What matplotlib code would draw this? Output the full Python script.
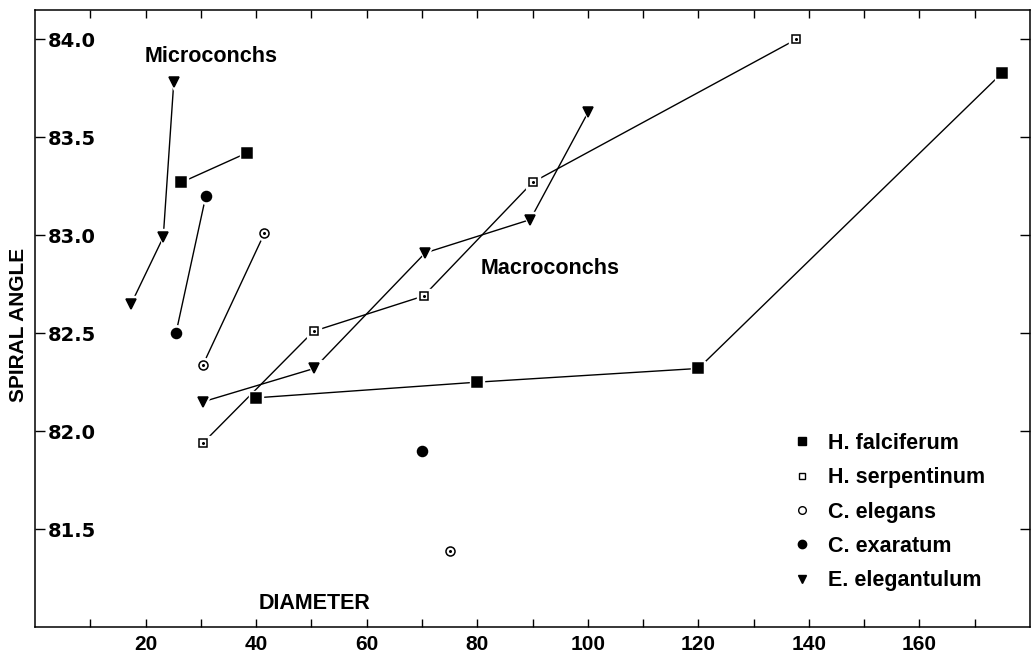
import matplotlib
matplotlib.use('Agg')
import matplotlib.pyplot as plt
from matplotlib.lines import Line2D
from matplotlib.ticker import FixedLocator, FormatStrFormatter

plt.rcParams['font.family'] = ['Liberation Sans', 'DejaVu Sans']
plt.rcParams['font.weight'] = 'bold'
plt.rcParams['axes.labelweight'] = 'bold'

# H. falciferum
falc_macro_x = [40, 80, 120, 175]
falc_macro_y = [82.17, 82.25, 82.32, 83.83]
falc_micro_x = [26.5, 38.3]
falc_micro_y = [83.27, 83.42]

# H. serpentinum
serp_x = [30.4, 50.4, 70.3, 90.0, 137.7]
serp_y = [81.94, 82.51, 82.69, 83.27, 84.0]

# C. elegans
eleg_micro_x = [30.4, 41.5]
eleg_micro_y = [82.34, 83.01]
eleg_single_x = [75.1]
eleg_single_y = [81.39]

# C. exaratum
exar_micro_x = [25.5, 30.9]
exar_micro_y = [82.50, 83.20]
exar_single_x = [70.0]
exar_single_y = [81.90]

# E. elegantulum
elegt_micro_x = [17.4, 23.2, 25.1]
elegt_micro_y = [82.65, 82.99, 83.78]
elegt_macro_x = [30.4, 50.5, 70.6, 89.6, 100.1]
elegt_macro_y = [82.15, 82.32, 82.91, 83.08, 83.63]

species = ['H. falciferum', 'H. serpentinum', 'C. elegans', 'C. exaratum', 'E. elegantulum']
x_ticks = [20, 40, 60, 80, 100, 120, 140, 160]
y_ticks = [81.5, 82.0, 82.5, 83.0, 83.5, 84.0]


def draw_series(ax, x, y, marker, ms, face, dot=False, line=True):
    if line:
        ax.plot(x, y, color='black', lw=1.0, zorder=2)
    # white halo so the lines stop short of the symbols
    ax.plot(x, y, ls='none', marker=marker, ms=ms + 4, mfc='white', mec='white', zorder=3)
    ax.plot(x, y, ls='none', marker=marker, ms=ms, mfc=face, mec='black', mew=1.1, zorder=4)
    if dot:
        ax.plot(x, y, ls='none', marker='o', ms=1.2, mfc='black', mec='black', zorder=5)


def plot_chart():
    fig = plt.figure(figsize=(10.32, 6.55), dpi=100)
    ax = fig.add_axes([35 / 1032, 28 / 655, 995 / 1032, 617 / 655])
    ax.set_xlim(0, 180)
    ax.set_ylim(81.0, 84.15)

    draw_series(ax, falc_macro_x, falc_macro_y, 's', 6.5, 'black')
    draw_series(ax, falc_micro_x, falc_micro_y, 's', 6.5, 'black')
    draw_series(ax, serp_x, serp_y, 's', 6.0, 'white', dot=True)
    draw_series(ax, eleg_micro_x, eleg_micro_y, 'o', 6.5, 'white', dot=True)
    draw_series(ax, eleg_single_x, eleg_single_y, 'o', 6.5, 'white', dot=True, line=False)
    draw_series(ax, exar_micro_x, exar_micro_y, 'o', 7.2, 'black')
    draw_series(ax, exar_single_x, exar_single_y, 'o', 7.2, 'black', line=False)
    draw_series(ax, elegt_micro_x, elegt_micro_y, 'v', 7, 'black')
    draw_series(ax, elegt_macro_x, elegt_macro_y, 'v', 7, 'black')

    for s in ax.spines.values():
        s.set_linewidth(1.1)

    ax.xaxis.set_major_locator(FixedLocator(x_ticks))
    ax.xaxis.set_minor_locator(FixedLocator(range(10, 171, 20)))
    ax.tick_params(axis='x', which='both', direction='in', length=6, width=1,
                   top=True, labelsize=15, pad=6)

    ax.yaxis.set_major_locator(FixedLocator(y_ticks))
    ax.yaxis.set_major_formatter(FormatStrFormatter('%.1f'))
    ax.tick_params(axis='y', direction='in', length=7, width=1, right=True,
                   labelsize=14, pad=-9)
    for lab in ax.get_yticklabels():
        lab.set_horizontalalignment('left')
        lab.set_fontfamily('DejaVu Sans')

    ax.set_ylabel('SPIRAL ANGLE', fontsize=15, fontweight='bold')
    ax.yaxis.set_label_coords(-0.007, 0.49)

    ax.text(50.5, 81.12, 'DIAMETER', fontsize=15.5, ha='center', va='center')
    ax.text(31.8, 83.915, 'Microconchs', fontsize=15.5, ha='center', va='center')
    ax.text(93.1, 82.83, 'Macroconchs', fontsize=15.5, ha='center', va='center')

    handles = [
        Line2D([], [], ls='none', marker='s', ms=5.5, mfc='black', mec='black'),
        Line2D([], [], ls='none', marker='s', ms=5, mfc='white', mec='black'),
        Line2D([], [], ls='none', marker='o', ms=5.5, mfc='white', mec='black'),
        Line2D([], [], ls='none', marker='o', ms=6, mfc='black', mec='black'),
        Line2D([], [], ls='none', marker='v', ms=6, mfc='black', mec='black'),
    ]
    fig.legend(handles, species, loc='upper left', bbox_to_anchor=(0.769, 0.339),
               frameon=False, fontsize=15.5, borderpad=0, borderaxespad=0,
               handlelength=0.8, handletextpad=0.8, labelspacing=0.62)

    fig.savefig('out.png', dpi=100)


if __name__ == '__main__':
    plot_chart()
